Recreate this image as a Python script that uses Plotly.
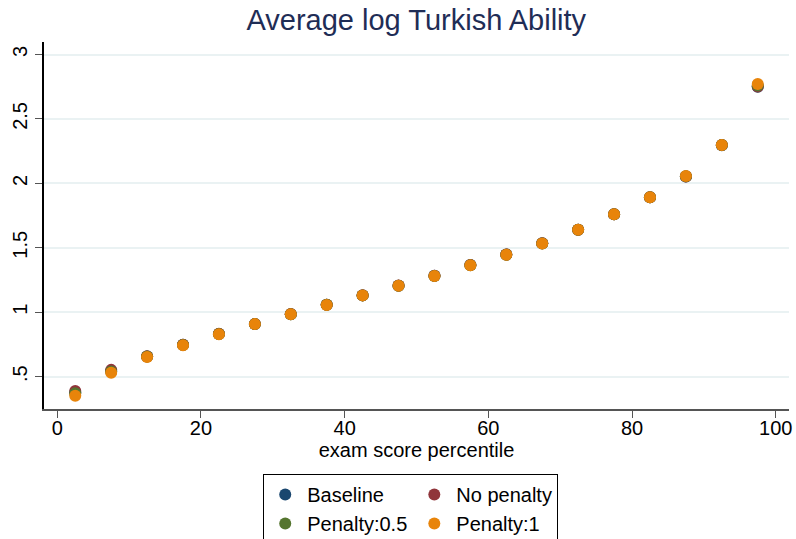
import plotly.graph_objects as go

# exam score percentile bins (midpoints)
percentile = [2.5, 7.5, 12.5, 17.5, 22.5, 27.5, 32.5, 37.5, 42.5, 47.5,
              52.5, 57.5, 62.5, 67.5, 72.5, 77.5, 82.5, 87.5, 92.5, 97.5]

# average log Turkish ability by scenario
baseline = [0.380, 0.545, 0.657, 0.748, 0.832, 0.908, 0.985, 1.058, 1.131, 1.206,
            1.283, 1.366, 1.448, 1.535, 1.641, 1.760, 1.892, 2.053, 2.296, 2.750]
no_penalty = [0.389, 0.553, 0.659, 0.748, 0.833, 0.909, 0.986, 1.058, 1.132, 1.207,
              1.283, 1.366, 1.448, 1.535, 1.641, 1.760, 1.892, 2.054, 2.297, 2.752]
penalty_05 = [0.372, 0.541, 0.656, 0.746, 0.831, 0.908, 0.985, 1.058, 1.131, 1.206,
              1.282, 1.365, 1.447, 1.534, 1.641, 1.760, 1.892, 2.055, 2.297, 2.760]
penalty_1 = [0.353, 0.530, 0.653, 0.744, 0.829, 0.908, 0.984, 1.057, 1.131, 1.206,
             1.282, 1.365, 1.447, 1.534, 1.641, 1.761, 1.893, 2.057, 2.298, 2.771]

y_tickvals = [0.5, 1, 1.5, 2, 2.5, 3]
y_ticktext = [".5", "1", "1.5", "2", "2.5", "3"]
x_tickvals = [0, 20, 40, 60, 80, 100]

series = [
    ("Baseline", baseline, "#1a476f", "left"),
    ("No penalty", no_penalty, "#90353b", "right"),
    ("Penalty:0.5", penalty_05, "#55752f", "left"),
    ("Penalty:1", penalty_1, "#e8840a", "right"),
]

FONT = "Liberation Sans, Arial, sans-serif"

fig = go.Figure()
for name, vals, color, col in series:
    fig.add_trace(go.Scatter(
        x=percentile, y=vals, mode="markers", name=name,
        legendgroup=col,
        marker=dict(size=12, color=color, line=dict(width=0)),
    ))

fig.update_layout(
    width=796, height=539,
    margin=dict(l=44, r=7, t=42, b=130, autoexpand=False),
    paper_bgcolor="white", plot_bgcolor="white",
    font=dict(family=FONT, color="black", size=19),
    title=dict(text="Average log Turkish Ability", x=0.523, xanchor="center",
               y=0.964, yanchor="middle",
               font=dict(family=FONT, size=29, color="#1f2d56")),
    showlegend=True,
    legend=dict(
        orientation="h", traceorder="grouped",
        xref="container", yref="container",
        x=0.516, xanchor="center", y=1 - 474 / 539, yanchor="top",
        bordercolor="black", borderwidth=1,
        font=dict(family=FONT, size=20, color="black"),
        tracegroupgap=44, itemsizing="constant", itemwidth=34,
    ),
    xaxis=dict(
        range=[-1.85, 101.85], tickvals=x_tickvals,
        showline=True, linecolor="#555555", linewidth=1.5,
        ticks="outside", ticklen=7, tickcolor="#555555",
        showgrid=False, zeroline=False, automargin=False,
        ticklabelstandoff=-7,
        title=dict(text="exam score percentile", font=dict(size=20), standoff=4),
        tickfont=dict(size=20),
    ),
    yaxis=dict(
        range=[0.2494, 3.097], tickvals=y_tickvals, ticktext=y_ticktext,
        tickangle=-90,
        showline=True, linecolor="black", linewidth=1.5,
        ticks="outside", ticklen=7, tickcolor="#555555",
        showgrid=True, gridcolor="#eaf2f3", gridwidth=1.5,
        zeroline=False, automargin=False, tickfont=dict(size=20),
    ),
)

fig.write_html("out.html")
